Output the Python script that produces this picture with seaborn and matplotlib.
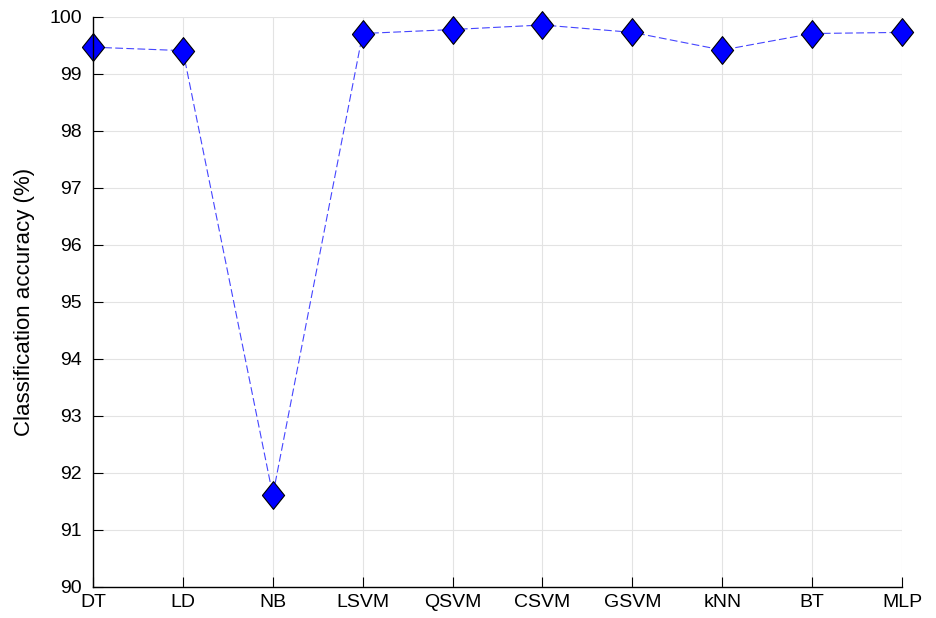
import matplotlib
matplotlib.use("Agg")
import matplotlib.pyplot as plt
import seaborn as sns
import pandas as pd

models = ["DT", "LD", "NB", "LSVM", "QSVM", "CSVM", "GSVM", "kNN", "BT", "MLP"]
accuracy = [99.47, 99.41, 91.61, 99.71, 99.78, 99.86, 99.73, 99.42, 99.71, 99.73]
yticks = list(range(90, 101))

df = pd.DataFrame({"model": models, "accuracy": accuracy})

sns.set_theme(style="whitegrid")
plt.rcParams["font.family"] = ["Liberation Sans", "DejaVu Sans"]

fig = plt.figure(figsize=(9.36, 6.18), dpi=100)
ax = fig.add_axes([0.0994, 0.0502, 0.8643, 0.9223])

diamond = [(-0.8, 0.0), (0.0, 1.0), (0.8, 0.0), (0.0, -1.0), (-0.8, 0.0)]
sns.lineplot(data=df, x="model", y="accuracy", ax=ax, sort=False,
             color="#4545ff", linewidth=0.8, dashes=False,
             marker=diamond, markersize=20, markerfacecolor="#0000ff",
             markeredgecolor="black", markeredgewidth=0.8)
ax.lines[0].set_linestyle((0, (7, 3)))

ax.set_xlim(0, len(models) - 1)
ax.set_ylim(90, 100)
ax.set_yticks(yticks)
ax.set_xticks(range(len(models)))
ax.set_xticklabels(models)
ax.set_xlabel("")
ax.set_ylabel("Classification accuracy (%)", fontsize=16, color="black", labelpad=10)

ax.set_facecolor("white")
ax.grid(True, color="#e3e3e3", linewidth=0.8)
for side in ("top", "right"):
    ax.spines[side].set_visible(False)
for side in ("left", "bottom"):
    ax.spines[side].set_visible(True)
    ax.spines[side].set_color("black")
    ax.spines[side].set_linewidth(1.0)

ax.tick_params(axis="both", direction="in", colors="black", labelsize=14,
               length=7, width=0.8, left=True, bottom=True)
ax.tick_params(axis="x", pad=5)
ax.tick_params(axis="y", pad=8)
for lab in ax.get_xticklabels() + ax.get_yticklabels():
    lab.set_clip_on(False)
for l in ax.lines:
    l.set_clip_on(False)

fig.savefig("out.png", dpi=100, facecolor="white")
